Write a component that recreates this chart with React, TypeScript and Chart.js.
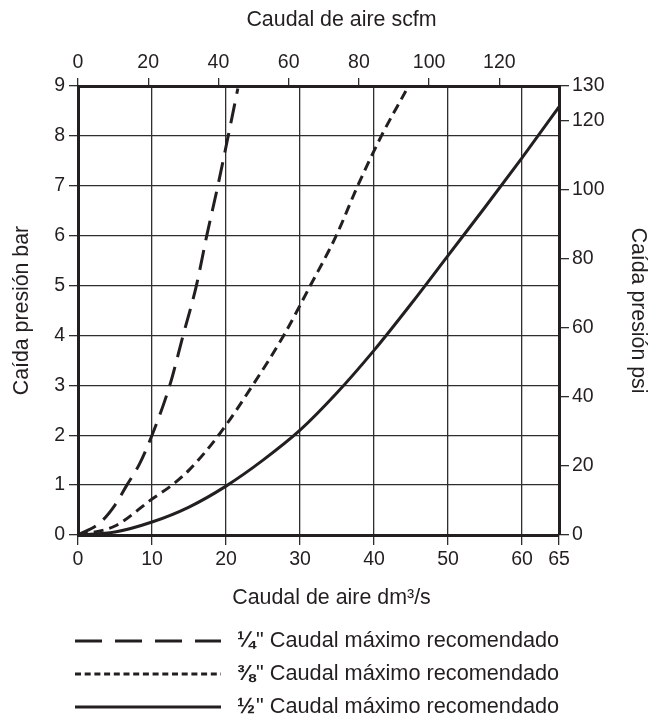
import React, { useEffect, useRef } from "react";
import { Chart, registerables } from "chart.js";

Chart.register(...registerables);

// ---- axis ticks ----
const flowTicks = [0, 10, 20, 30, 40, 50, 60, 65]; // dm³/s (bottom)
const scfmTicks = [0, 20, 40, 60, 80, 100, 120]; // scfm (top)
const barTicks = [0, 1, 2, 3, 4, 5, 6, 7, 8, 9]; // bar (left)
const psiTicks = [0, 20, 40, 60, 80, 100, 120, 130]; // psi (right)
const FLOW_MAX = 65;
const SCFM_MAX = 137;
const BAR_MAX = 9;
const PSI_MAX = 130;

// ---- series: ¼" ----
const flowQuarter = [0, 3, 5, 6.6, 8.3, 10, 12.4, 14.2, 16, 17.4, 18.9, 20.3, 21.6];
const dropQuarter = [0, 0.25, 0.6, 1, 1.42, 2, 3, 4, 5, 6, 7, 8, 8.95];

// ---- series: ⅜" ----
const flowThreeEighths = [0, 5, 10, 12.7, 15, 19, 23.6, 27.8, 31.4, 34.9, 37.8, 41, 44.3];
const dropThreeEighths = [0, 0.18, 0.72, 1, 1.3, 2, 3, 4, 5, 6, 7, 8, 8.9];

// ---- series: ½" ----
const flowHalf = [0, 5, 10, 15, 20, 25, 30, 35, 40, 45, 50, 55, 60, 65];
const dropHalf = [0, 0.06, 0.26, 0.56, 0.98, 1.5, 2.1, 2.85, 3.7, 4.63, 5.6, 6.57, 7.56, 8.58];

const seriesFractions = ["¼", "⅜", "½"];
const legendRest = "\" Caudal máximo recomendado";
const topTitle = "Caudal de aire scfm";
const bottomTitle = "Caudal de aire dm³/s";
const leftTitle = "Caída presión bar";
const rightTitle = "Caída presión psi";

const FONT = '"Liberation Sans", Arial, Helvetica, sans-serif';
const INK = "#231f20";
const GRID = "#2e2e2e";

const toPoints = (xs: number[], ys: number[]) => xs.map((x, i) => ({ x, y: ys[i] }));

const captionPlugin = {
  id: "captions",
  afterDraw(chart: any) {
    const ctx = chart.ctx as CanvasRenderingContext2D;
    const area = chart.chartArea;
    const mid = (area.left + area.right) / 2;
    ctx.save();
    ctx.fillStyle = INK;
    ctx.font = `21.4px ${FONT}`;
    ctx.textAlign = "center";
    ctx.textBaseline = "middle";
    ctx.fillText(topTitle, mid + 23, 20);
    ctx.fillText(bottomTitle, mid + 13, 598);

    const legendDashes = [[27, 13], [6, 3.7], []];
    chart.data.datasets.forEach((ds: any, i: number) => {
      const y = 641 + i * 33;
      ctx.strokeStyle = ds.borderColor;
      ctx.lineWidth = 3;
      ctx.setLineDash(legendDashes[i]);
      ctx.beginPath();
      ctx.moveTo(75, y);
      ctx.lineTo(221, y);
      ctx.stroke();
      ctx.setLineDash([]);
      ctx.textAlign = "left";
      ctx.font = `bold 21.7px ${FONT}`;
      ctx.fillText(seriesFractions[i], 237, y);
      const w = ctx.measureText(seriesFractions[i]).width;
      ctx.font = `21.7px ${FONT}`;
      ctx.fillText(legendRest, 237 + w + 1, y);
    });
    ctx.restore();
  },
};

export default function App() {
  const ref = useRef<HTMLCanvasElement | null>(null);

  useEffect(() => {
    if (!ref.current) return;
    const tickFont = { family: FONT, size: 19.5 };
    const titleFont = { family: FONT, size: 21.3 };
    const border = { display: true, width: 3, color: INK };

    const chart = new Chart(ref.current, {
      type: "line",
      data: {
        datasets: [
          {
            label: "¼\"",
            data: toPoints(flowQuarter, dropQuarter),
            borderColor: INK,
            borderWidth: 3,
            borderDash: [20, 10],
            pointRadius: 0,
            fill: false,
            cubicInterpolationMode: "monotone",
            xAxisID: "x",
            yAxisID: "y",
          },
          {
            label: "⅜\"",
            data: toPoints(flowThreeEighths, dropThreeEighths),
            borderColor: INK,
            borderWidth: 3,
            borderDash: [10, 6],
            pointRadius: 0,
            fill: false,
            cubicInterpolationMode: "monotone",
            xAxisID: "x",
            yAxisID: "y",
          },
          {
            label: "½\"",
            data: toPoints(flowHalf, dropHalf),
            borderColor: INK,
            borderWidth: 3,
            pointRadius: 0,
            fill: false,
            cubicInterpolationMode: "monotone",
            xAxisID: "x",
            yAxisID: "y",
          },
        ],
      },
      options: {
        animation: false,
        responsive: true,
        maintainAspectRatio: false,
        devicePixelRatio: 1,
        layout: { padding: { top: 0, left: 0, right: 0, bottom: 93 } },
        plugins: { legend: { display: false }, tooltip: { enabled: false } },
        scales: {
          x: {
            type: "linear",
            position: "bottom",
            min: 0,
            max: FLOW_MAX,
            afterBuildTicks: (s: any) => {
              s.ticks = flowTicks.map((v) => ({ value: v }));
            },
            afterFit: (s: any) => {
              s.height = 90;
            },
            grid: { color: GRID, lineWidth: 1.3, tickLength: 10, drawTicks: true },
            border,
            ticks: { font: tickFont, color: INK, padding: 3, maxRotation: 0, autoSkip: false },
          },
          x2: {
            type: "linear",
            position: "top",
            min: 0,
            max: SCFM_MAX,
            afterBuildTicks: (s: any) => {
              s.ticks = scfmTicks.map((v) => ({ value: v }));
            },
            afterFit: (s: any) => {
              s.height = 86;
            },
            grid: { color: GRID, lineWidth: 1.3, tickLength: 8, drawOnChartArea: false, drawTicks: true },
            border,
            ticks: { font: tickFont, color: INK, padding: 4, maxRotation: 0, autoSkip: false },
          },
          y: {
            type: "linear",
            position: "left",
            min: 0,
            max: BAR_MAX,
            afterBuildTicks: (s: any) => {
              s.ticks = barTicks.map((v) => ({ value: v }));
            },
            afterFit: (s: any) => {
              s.width = 78;
            },
            grid: { color: GRID, lineWidth: 1.3, tickLength: 9, drawTicks: true },
            border,
            ticks: { font: tickFont, color: INK, padding: 4, autoSkip: false },
            title: { display: true, text: leftTitle, font: titleFont, color: INK, padding: { top: 9, bottom: 0 } },
          },
          y2: {
            type: "linear",
            position: "right",
            min: 0,
            max: PSI_MAX,
            afterBuildTicks: (s: any) => {
              s.ticks = psiTicks.map((v) => ({ value: v }));
            },
            afterFit: (s: any) => {
              s.width = 92;
            },
            grid: { color: GRID, lineWidth: 1.3, tickLength: 10, drawOnChartArea: false, drawTicks: true },
            border,
            ticks: { font: tickFont, color: INK, padding: 3, autoSkip: false },
            title: { display: true, text: rightTitle, font: titleFont, color: INK, padding: { top: 0, bottom: 0 } },
          },
        },
      } as any,
      plugins: [captionPlugin],
    });
    return () => chart.destroy();
  }, []);

  return (
    <div style={{ position: "fixed", left: 0, top: 0, width: 651, height: 718, background: "#fff" }}>
      <canvas ref={ref} />
    </div>
  );
}
